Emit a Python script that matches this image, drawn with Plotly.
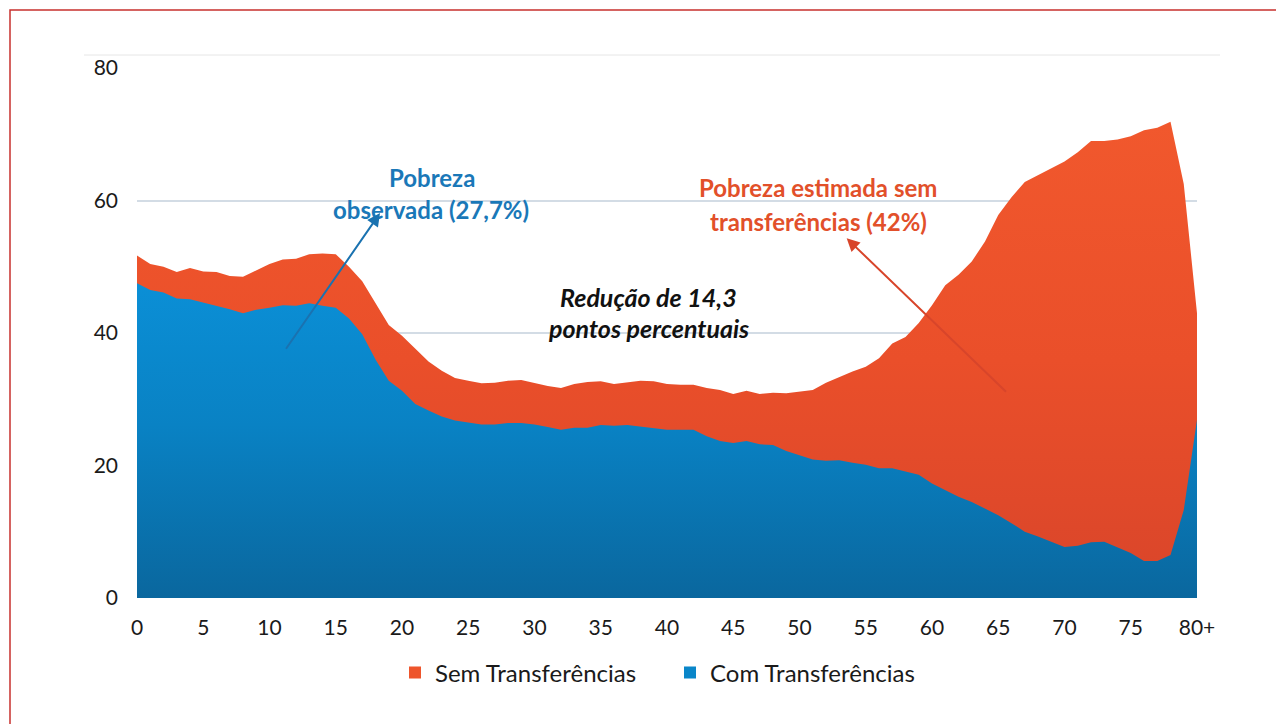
import plotly.graph_objects as go

# ---- data ----
ages = list(range(81))
tick_vals = [0, 5, 10, 15, 20, 25, 30, 35, 40, 45, 50, 55, 60, 65, 70, 75, 80]
tick_text = ["0", "5", "10", "15", "20", "25", "30", "35", "40", "45", "50",
             "55", "60", "65", "70", "75", "80+"]

sem_transferencias = [
    51.7, 50.4, 50.0, 49.2, 49.8, 49.3, 49.2, 48.6, 48.5, 49.5,
    50.4, 51.1, 51.2, 51.9, 52.0, 51.9, 50.0, 47.8, 44.5, 41.2,
    39.6, 37.6, 35.7, 34.3, 33.2, 32.8, 32.4, 32.5, 32.8, 32.9,
    32.4, 32.0, 31.7, 32.3, 32.6, 32.7, 32.3, 32.6, 32.8, 32.7,
    32.3, 32.2, 32.2, 31.7, 31.4, 30.8, 31.3, 30.8, 31.0, 30.9,
    31.2, 31.4, 32.5, 33.4, 34.2, 34.9, 36.2, 38.4, 39.4, 41.5,
    44.2, 47.2, 48.8, 50.8, 53.8, 57.8, 60.5, 62.8, 63.8, 64.9,
    65.9, 67.3, 69.0, 69.0, 69.2, 69.7, 70.6, 71.0, 71.9, 62.5,
    43.0,
]
com_transferencias = [
    47.5, 46.5, 46.1, 45.2, 45.1, 44.6, 44.2, 43.6, 43.0, 43.5,
    43.8, 44.2, 44.1, 44.5, 44.1, 43.8, 42.2, 39.8, 36.0, 32.8,
    31.3, 29.3, 28.3, 27.4, 26.8, 26.5, 26.2, 26.2, 26.4, 26.4,
    26.2, 25.8, 25.4, 25.7, 25.7, 26.1, 26.0, 26.1, 25.9, 25.7,
    25.4, 25.4, 25.4, 24.4, 23.7, 23.4, 23.7, 23.2, 23.1, 22.2,
    21.5, 20.9, 20.7, 20.8, 20.4, 20.1, 19.6, 19.6, 19.1, 18.6,
    17.3, 16.3, 15.3, 14.5, 13.5, 12.5, 11.3, 10.0, 9.3, 8.5,
    7.7, 7.9, 8.4, 8.5, 7.7, 6.8, 5.6, 5.6, 6.5, 13.3,
    26.9,
]

series_names = ["Sem Transferências", "Com Transferências"]

ORANGE = "#EE552C"
BLUE = "#0A86C9"
FONT = "Lato, 'Open Sans', sans-serif"

fig = go.Figure()

fig.add_trace(go.Scatter(
    x=ages, y=sem_transferencias, mode="lines", line=dict(width=0),
    fill="tozeroy",
    fillgradient=dict(type="vertical",
                      colorscale=[[0, "#D9452A"], [0.5, "#EA4F2A"], [1, "#F1582D"]]),
    showlegend=False, hoverinfo="skip",
))
fig.add_trace(go.Scatter(
    x=ages, y=com_transferencias, mode="lines", line=dict(width=0),
    fill="tozeroy",
    fillgradient=dict(type="vertical",
                      colorscale=[[0, "#0A679E"], [0.55, "#0982C4"], [1, "#0B8FD6"]]),
    showlegend=False, hoverinfo="skip",
))

# legend entries (square swatches)
fig.add_trace(go.Scatter(x=[None], y=[None], mode="markers", name=series_names[0],
                         marker=dict(symbol="square", size=12, color=ORANGE)))
fig.add_trace(go.Scatter(x=[None], y=[None], mode="markers", name=series_names[1],
                         marker=dict(symbol="square", size=12, color=BLUE)))

annotations = []
def label(x, y, text, color, size, italic=False):
    t = "<b>" + text + "</b>"
    if italic:
        t = "<i>" + t + "</i>"
    annotations.append(dict(x=x, y=y, xref="x", yref="y", text=t, showarrow=False,
                            font=dict(family=FONT, size=size, color=color),
                            xanchor="center", yanchor="middle"))

label(22.3, 63.5, "Pobreza", "#1A78B8", 24)
label(22.2, 58.7, "observada (27,7%)", "#1A78B8", 24)
label(51.4, 61.9, "Pobreza estimada sem", "#E2502A", 24)
label(51.4, 56.9, "transferências (42%)", "#E2502A", 24)
label(38.6, 45.4, "Redução de 14,3", "#111111", 25, italic=True)
label(38.6, 40.75, "pontos percentuais", "#111111", 25, italic=True)

# arrows
annotations.append(dict(x=18.34, y=58.1, ax=11.17, ay=37.4, xref="x", yref="y",
                        axref="x", ayref="y", text="", showarrow=True,
                        arrowhead=2, arrowsize=1.3, arrowwidth=2, arrowcolor="#1A72B0"))
annotations.append(dict(x=53.56, y=54.3, ax=65.7, ay=30.9, xref="x", yref="y",
                        axref="x", ayref="y", text="", showarrow=True,
                        arrowhead=2, arrowsize=1.3, arrowwidth=2, arrowcolor="#D8452A"))

shapes = [
    # outer red border (top and left visible)
    dict(type="rect", xref="paper", yref="paper", x0=(10 - 137) / 1060, x1=1.3,
         y0=-0.5, y1=1 + (68 - 10) / 530, line=dict(color="#C8302E", width=1.5),
         layer="below"),
    # faint plot-area border line
    dict(type="line", xref="paper", yref="paper", x0=(84 - 137) / 1060,
         x1=(1220 - 137) / 1060, y0=1 + 13 / 530, y1=1 + 13 / 530,
         line=dict(color="#E6E6E6", width=1), layer="below"),
]

# page has an 8px body margin: figure is placed at (8, 8)
fig.update_layout(
    width=1276, height=716,
    margin=dict(l=129, r=87, t=60, b=126),
    paper_bgcolor="white", plot_bgcolor="white",
    font=dict(family=FONT, size=21, color="#1a1a1a"),
    xaxis=dict(range=[0, 80], tickmode="array", tickvals=tick_vals, ticktext=tick_text,
               showgrid=False, zeroline=False, showline=False, ticks="",
               ticklabelstandoff=15, tickfont=dict(size=21)),
    yaxis=dict(range=[0, 80], tickvals=[0, 20, 40, 60, 80], showgrid=True,
               gridcolor="#D3DCE5", gridwidth=2, zeroline=False, showline=False,
               ticks="", ticklabelstandoff=18, tickfont=dict(size=21)),
    legend=dict(orientation="h", x=(395 - 137) / 1060, xanchor="left",
                y=-0.1415, yanchor="middle",
                font=dict(family=FONT, size=24, color="#1a1a1a"),
                entrywidth=230, itemsizing="constant"),
    annotations=annotations,
    shapes=shapes,
    showlegend=True,
)

fig.write_html("out.html")
